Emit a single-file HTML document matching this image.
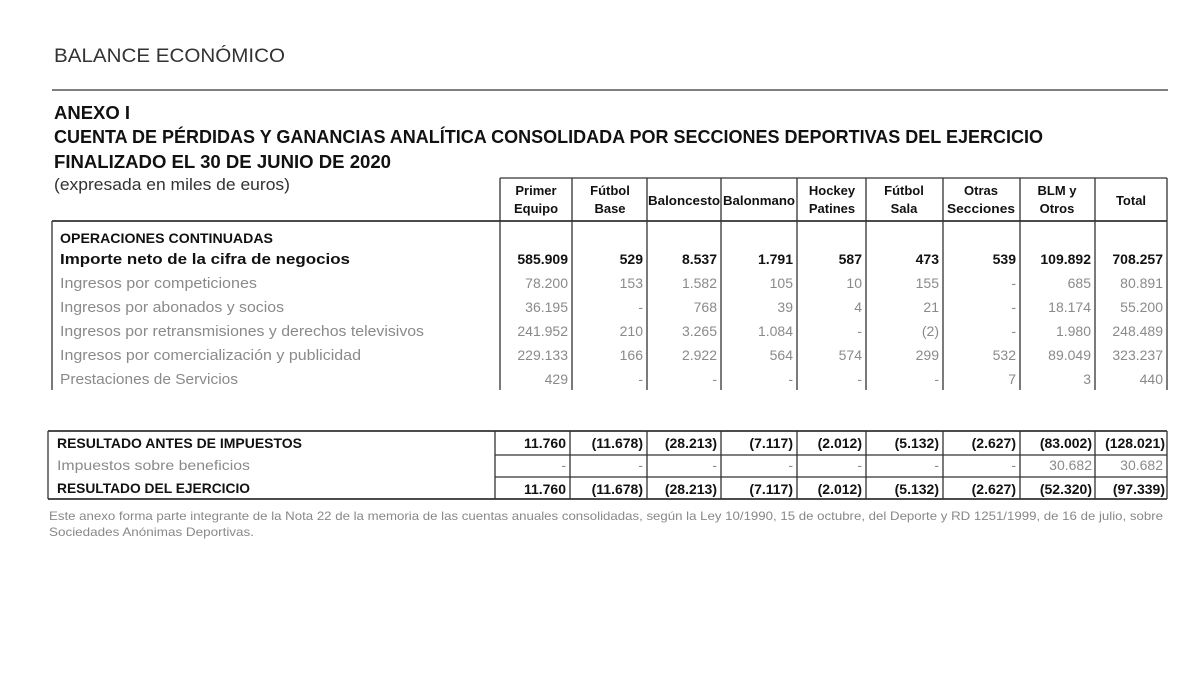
<!DOCTYPE html>
<html><head><meta charset="utf-8"><style>
html,body{margin:0;padding:0;background:#fff;}
svg{display:block;font-family:"Liberation Sans",sans-serif;}
.b{font-weight:bold;fill:#111;}
.g{fill:#8a8a8a;}
.n{text-anchor:end;font-size:14px;}
</style></head><body>
<svg width="1200" height="675" viewBox="0 0 1200 675">
<text x="54" y="62" font-size="19" fill="#333" textLength="231" lengthAdjust="spacingAndGlyphs">BALANCE ECONÓMICO</text>
<line x1="52" y1="90" x2="1168" y2="90" stroke="#555" stroke-width="1.5"/>
<text x="54" y="119" class="b" font-size="18" textLength="76" lengthAdjust="spacingAndGlyphs">ANEXO I</text>
<text x="54" y="143" class="b" font-size="18" textLength="989" lengthAdjust="spacingAndGlyphs">CUENTA DE PÉRDIDAS Y GANANCIAS ANALÍTICA CONSOLIDADA POR SECCIONES DEPORTIVAS DEL EJERCICIO</text>
<text x="54" y="168" class="b" font-size="18" textLength="337" lengthAdjust="spacingAndGlyphs">FINALIZADO EL 30 DE JUNIO DE 2020</text>
<text x="54" y="190" font-size="17" fill="#333" textLength="236" lengthAdjust="spacingAndGlyphs">(expresada en miles de euros)</text>

<g stroke="#333" stroke-width="1.3">
<line x1="500" y1="178" x2="1167" y2="178"/>
<line x1="52" y1="221" x2="1167" y2="221" stroke-width="1.8"/>
<line x1="52" y1="221" x2="52" y2="390"/>
<line x1="500" y1="178" x2="500" y2="390"/>
<line x1="572" y1="178" x2="572" y2="390"/>
<line x1="647" y1="178" x2="647" y2="390"/>
<line x1="721" y1="178" x2="721" y2="390"/>
<line x1="797" y1="178" x2="797" y2="390"/>
<line x1="866" y1="178" x2="866" y2="390"/>
<line x1="943" y1="178" x2="943" y2="390"/>
<line x1="1020" y1="178" x2="1020" y2="390"/>
<line x1="1095" y1="178" x2="1095" y2="390"/>
<line x1="1167" y1="178" x2="1167" y2="390"/>
</g>
<g class="b" font-size="13" text-anchor="middle">
<text x="536" y="195">Primer</text><text x="536" y="213">Equipo</text>
<text x="610" y="195">Fútbol</text><text x="610" y="213">Base</text>
<text x="684" y="205" textLength="72" lengthAdjust="spacingAndGlyphs">Baloncesto</text>
<text x="759" y="205" textLength="72" lengthAdjust="spacingAndGlyphs">Balonmano</text>
<text x="832" y="195">Hockey</text><text x="832" y="213">Patines</text>
<text x="904" y="195">Fútbol</text><text x="904" y="213">Sala</text>
<text x="981" y="195">Otras</text><text x="981" y="213" textLength="68" lengthAdjust="spacingAndGlyphs">Secciones</text>
<text x="1057" y="195">BLM y</text><text x="1057" y="213">Otros</text>
<text x="1131" y="205">Total</text>
</g>

<text x="60" y="243" class="b" font-size="14" textLength="213" lengthAdjust="spacingAndGlyphs">OPERACIONES CONTINUADAS</text>
<text x="60" y="264" class="b" font-size="15" textLength="290" lengthAdjust="spacingAndGlyphs">Importe neto de la cifra de negocios</text>
<g class="g" font-size="15">
<text x="60" y="288" textLength="197" lengthAdjust="spacingAndGlyphs">Ingresos por competiciones</text>
<text x="60" y="312" textLength="224" lengthAdjust="spacingAndGlyphs">Ingresos por abonados y socios</text>
<text x="60" y="336" textLength="364" lengthAdjust="spacingAndGlyphs">Ingresos por retransmisiones y derechos televisivos</text>
<text x="60" y="360" textLength="301" lengthAdjust="spacingAndGlyphs">Ingresos por comercialización y publicidad</text>
<text x="60" y="384" textLength="178" lengthAdjust="spacingAndGlyphs">Prestaciones de Servicios</text>
</g>
<g class="n b">
<text x="568" y="264">585.909</text><text x="643" y="264">529</text><text x="717" y="264">8.537</text><text x="793" y="264">1.791</text><text x="862" y="264">587</text><text x="939" y="264">473</text><text x="1016" y="264">539</text><text x="1091" y="264">109.892</text><text x="1163" y="264">708.257</text>
</g>
<g class="n g">
<text x="568" y="288">78.200</text><text x="643" y="288">153</text><text x="717" y="288">1.582</text><text x="793" y="288">105</text><text x="862" y="288">10</text><text x="939" y="288">155</text><text x="1016" y="288">-</text><text x="1091" y="288">685</text><text x="1163" y="288">80.891</text>
<text x="568" y="312">36.195</text><text x="643" y="312">-</text><text x="717" y="312">768</text><text x="793" y="312">39</text><text x="862" y="312">4</text><text x="939" y="312">21</text><text x="1016" y="312">-</text><text x="1091" y="312">18.174</text><text x="1163" y="312">55.200</text>
<text x="568" y="336">241.952</text><text x="643" y="336">210</text><text x="717" y="336">3.265</text><text x="793" y="336">1.084</text><text x="862" y="336">-</text><text x="939" y="336">(2)</text><text x="1016" y="336">-</text><text x="1091" y="336">1.980</text><text x="1163" y="336">248.489</text>
<text x="568" y="360">229.133</text><text x="643" y="360">166</text><text x="717" y="360">2.922</text><text x="793" y="360">564</text><text x="862" y="360">574</text><text x="939" y="360">299</text><text x="1016" y="360">532</text><text x="1091" y="360">89.049</text><text x="1163" y="360">323.237</text>
<text x="568" y="384">429</text><text x="643" y="384">-</text><text x="717" y="384">-</text><text x="793" y="384">-</text><text x="862" y="384">-</text><text x="939" y="384">-</text><text x="1016" y="384">7</text><text x="1091" y="384">3</text><text x="1163" y="384">440</text>
</g>

<g stroke="#333" stroke-width="1.3">
<line x1="48" y1="431" x2="1167" y2="431" stroke-width="1.8"/>
<line x1="495" y1="455" x2="1167" y2="455"/>
<line x1="495" y1="477" x2="1167" y2="477"/>
<line x1="48" y1="499" x2="1167" y2="499" stroke-width="1.8"/>
<line x1="48" y1="431" x2="48" y2="499"/>
<line x1="495" y1="431" x2="495" y2="499"/>
<line x1="570" y1="431" x2="570" y2="499"/>
<line x1="647" y1="431" x2="647" y2="499"/>
<line x1="721" y1="431" x2="721" y2="499"/>
<line x1="797" y1="431" x2="797" y2="499"/>
<line x1="866" y1="431" x2="866" y2="499"/>
<line x1="943" y1="431" x2="943" y2="499"/>
<line x1="1020" y1="431" x2="1020" y2="499"/>
<line x1="1095" y1="431" x2="1095" y2="499"/>
<line x1="1167" y1="431" x2="1167" y2="499"/>
</g>
<text x="57" y="448" class="b" font-size="14" textLength="245" lengthAdjust="spacingAndGlyphs">RESULTADO ANTES DE IMPUESTOS</text>
<text x="57" y="470" class="g" font-size="14" textLength="193" lengthAdjust="spacingAndGlyphs">Impuestos sobre beneficios</text>
<text x="57" y="493" class="b" font-size="14" textLength="193" lengthAdjust="spacingAndGlyphs">RESULTADO DEL EJERCICIO</text>
<g class="n b" font-size="13">
<text x="566" y="448">11.760</text><text x="643" y="448">(11.678)</text><text x="717" y="448">(28.213)</text><text x="793" y="448">(7.117)</text><text x="862" y="448">(2.012)</text><text x="939" y="448">(5.132)</text><text x="1016" y="448">(2.627)</text><text x="1092" y="448">(83.002)</text><text x="1165" y="448">(128.021)</text>
<text x="566" y="494">11.760</text><text x="643" y="494">(11.678)</text><text x="717" y="494">(28.213)</text><text x="793" y="494">(7.117)</text><text x="862" y="494">(2.012)</text><text x="939" y="494">(5.132)</text><text x="1016" y="494">(2.627)</text><text x="1092" y="494">(52.320)</text><text x="1165" y="494">(97.339)</text>
</g>
<g class="n g" font-size="13">
<text x="566" y="470">-</text><text x="643" y="470">-</text><text x="717" y="470">-</text><text x="793" y="470">-</text><text x="862" y="470">-</text><text x="939" y="470">-</text><text x="1016" y="470">-</text><text x="1092" y="470">30.682</text><text x="1163" y="470">30.682</text>
</g>
<text x="49" y="520" font-size="12" fill="#888" textLength="1114" lengthAdjust="spacingAndGlyphs">Este anexo forma parte integrante de la Nota 22 de la memoria de las cuentas anuales consolidadas, según la Ley 10/1990, 15 de octubre, del Deporte y RD 1251/1999, de 16 de julio, sobre</text>
<text x="49" y="536" font-size="12" fill="#888" textLength="205" lengthAdjust="spacingAndGlyphs">Sociedades Anónimas Deportivas.</text>
</svg>
</body></html>
